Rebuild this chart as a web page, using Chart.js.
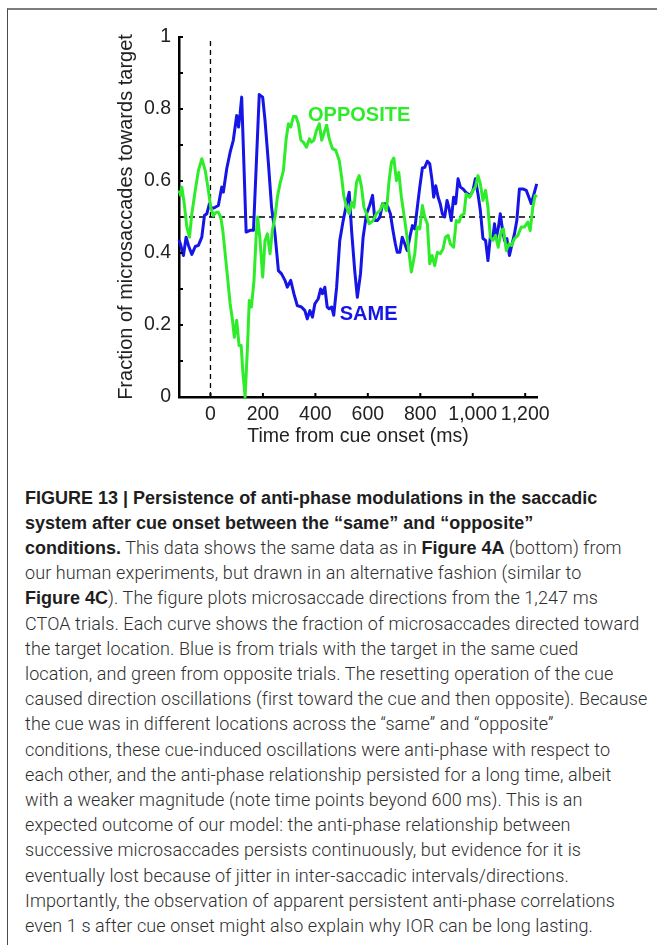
<!DOCTYPE html>
<html><head><meta charset="utf-8">
<script src="https://cdn.jsdelivr.net/npm/chart.js@4.4.1/dist/chart.umd.min.js"></script>
<style>
html,body{margin:0;padding:0;background:#fff;width:657px;height:945px;overflow:hidden;}
#frame{position:absolute;left:7px;top:8px;width:720px;height:1000px;border-top:2px solid #7d7d7d;border-left:1.5px solid #4a4a4a;}
#wrap{position:absolute;left:0;top:0;width:657px;height:460px;}
#cap{position:absolute;left:25px;top:484.7px;font-family:'Roboto','Liberation Sans',sans-serif;font-weight:300;font-size:18px;color:#2e2e2e;}
#cap div{height:25.2px;line-height:25.2px;white-space:nowrap;}
#cap div span{display:inline-block;}
#cap b{font-family:'Liberation Sans',Arial,sans-serif;font-weight:700;color:#1e1e1e;letter-spacing:0;}
</style></head>
<body>
<div id="frame"></div>
<div id="wrap"><canvas id="c" width="657" height="460"></canvas></div>
<div id="cap">
<div><span><b>FIGURE 13 | Persistence of anti-phase modulations in the saccadic</b></span></div>
<div><span><b>system after cue onset between the “same” and “opposite”</b></span></div>
<div><span><b>conditions.</b> This data shows the same data as in <b>Figure 4A</b> (bottom) from</span></div>
<div><span>our human experiments, but drawn in an alternative fashion (similar to</span></div>
<div><span><b>Figure 4C</b>). The figure plots microsaccade directions from the 1,247 ms</span></div>
<div><span>CTOA trials. Each curve shows the fraction of microsaccades directed toward</span></div>
<div><span>the target location. Blue is from trials with the target in the same cued</span></div>
<div><span>location, and green from opposite trials. The resetting operation of the cue</span></div>
<div><span id="refline">caused direction oscillations (first toward the cue and then opposite). Because</span></div>
<div><span>the cue was in different locations across the “same” and “opposite”</span></div>
<div><span>conditions, these cue-induced oscillations were anti-phase with respect to</span></div>
<div><span>each other, and the anti-phase relationship persisted for a long time, albeit</span></div>
<div><span>with a weaker magnitude (note time points beyond 600 ms). This is an</span></div>
<div><span>expected outcome of our model: the anti-phase relationship between</span></div>
<div><span>successive microsaccades persists continuously, but evidence for it is</span></div>
<div><span>eventually lost because of jitter in inter-saccadic intervals/directions.</span></div>
<div><span>Importantly, the observation of apparent persistent anti-phase correlations</span></div>
<div><span>even 1 s after cue onset might also explain why IOR can be long lasting.</span></div>
</div>
<script>
// ---- data ----
const timeSame = [-120,-115,-103,-93,-84,-71,-58,-46,-33,-23,-14,-4,5,18,30,43,49,62,75,87,100,107,113,119,136,151,164,186,199,208,221,233,246,259,271,284,293,306,318,331,347,360,369,379,389,398,411,420,427,436,445,453,462,470,481,493,506,519,529,538,550,560,572,582,595,607,618,627,636,646,656,669,677,686,696,705,712,722,731,741,750,760,770,779,788,798,808,817,827,836,845,851,859,868,876,884,893,902,909,918,927,935,944,953,963,973,982,991,1001,1010,1020,1029,1039,1049,1058,1067,1077,1083,1089,1098,1105,1112,1121,1130,1140,1150,1159,1168,1178,1191,1204,1214,1223,1232,1244];
const fracSame = [0.437,0.426,0.393,0.444,0.421,0.396,0.418,0.421,0.444,0.504,0.509,0.537,0.523,0.527,0.532,0.583,0.569,0.634,0.680,0.713,0.782,0.750,0.787,0.833,0.458,0.463,0.463,0.840,0.833,0.768,0.648,0.527,0.453,0.351,0.342,0.324,0.305,0.324,0.287,0.254,0.250,0.240,0.217,0.240,0.222,0.259,0.273,0.300,0.287,0.305,0.250,0.245,0.250,0.227,0.305,0.435,0.490,0.537,0.569,0.463,0.351,0.277,0.342,0.444,0.509,0.532,0.560,0.490,0.490,0.500,0.537,0.537,0.527,0.509,0.462,0.425,0.402,0.402,0.444,0.425,0.407,0.444,0.476,0.467,0.523,0.583,0.636,0.638,0.655,0.648,0.601,0.555,0.587,0.555,0.537,0.509,0.500,0.546,0.527,0.490,0.555,0.537,0.606,0.583,0.578,0.569,0.564,0.560,0.574,0.606,0.564,0.518,0.440,0.435,0.379,0.444,0.444,0.481,0.440,0.472,0.509,0.472,0.435,0.440,0.393,0.425,0.453,0.490,0.578,0.578,0.574,0.555,0.537,0.560,0.592];
const timeOpposite = [-120,-114,-109,-100,-90,-80,-71,-58,-46,-33,-20,-8,1,11,22,30,39,47,56,65,75,84,91,100,109,117,123,132,141,148,156,166,174,180,189,199,208,217,227,236,246,255,265,278,288,297,306,316,326,335,345,354,366,377,385,394,404,415,424,432,443,453,465,478,491,500,508,519,529,538,547,557,567,576,585,595,605,620,633,646,658,671,681,690,699,709,718,728,741,753,766,779,788,798,808,817,827,836,845,855,865,876,887,896,906,915,927,937,948,956,967,975,988,1001,1010,1020,1029,1039,1049,1058,1067,1077,1087,1097,1109,1117,1128,1138,1148,1159,1172,1185,1197,1210,1219,1229,1238,1244];
const fracOpposite = [0.574,0.560,0.583,0.537,0.472,0.444,0.509,0.574,0.629,0.662,0.629,0.574,0.527,0.504,0.513,0.513,0.500,0.463,0.398,0.333,0.259,0.213,0.166,0.213,0.143,0.143,0.074,0.000,0.138,0.268,0.250,0.324,0.444,0.500,0.435,0.333,0.435,0.453,0.398,0.463,0.500,0.555,0.592,0.629,0.713,0.759,0.750,0.779,0.779,0.759,0.713,0.708,0.694,0.717,0.708,0.713,0.740,0.759,0.713,0.731,0.755,0.717,0.690,0.685,0.657,0.611,0.560,0.527,0.509,0.541,0.527,0.597,0.615,0.583,0.527,0.509,0.481,0.490,0.509,0.518,0.537,0.518,0.601,0.652,0.664,0.601,0.624,0.555,0.490,0.425,0.347,0.398,0.472,0.467,0.532,0.500,0.481,0.370,0.393,0.365,0.402,0.398,0.412,0.444,0.449,0.425,0.416,0.490,0.486,0.504,0.509,0.564,0.555,0.574,0.583,0.615,0.592,0.546,0.574,0.527,0.444,0.435,0.449,0.416,0.462,0.467,0.407,0.425,0.421,0.440,0.449,0.472,0.472,0.486,0.462,0.527,0.560,0.555];
const xTickValues = [0,200,400,600,800,1000,1200];
const xTickLabels = ['0','200','400','600','800','1,000','1,200'];
const yTickValues = [0,0.2,0.4,0.6,0.8,1];
const yTickLabels = ['0','0.2','0.4','0.6','0.8','1'];
const yMinorTicks = [0,0.1,0.2,0.3,0.4,0.5,0.6,0.7,0.8,0.9,1];
const cueTime = 0;
const chanceLevel = 0.5;
const xMin = -120, xMax = 1245;
const labelTexts = ['OPPOSITE','SAME'];
const labelTimes = [372, 493];
const labelFracs = [0.768, 0.215];

// ---- caption fit ----
(function(){
  const ref = document.getElementById('refline');
  const w = ref.getBoundingClientRect().width;
  const n = ref.textContent.length;
  const ls = (622 - w) / n;
  document.getElementById('cap').style.letterSpacing = ls + 'px';
})();

// ---- chart ----
const BLUE = '#1515e6', GREEN = '#2eec2a';
const FONT = "'Liberation Sans', Arial, Helvetica, sans-serif";
Chart.defaults.font.family = FONT;
const pts = (xs, ys) => xs.map((t, i) => ({x: t, y: ys[i]}));

const decor = {
  id: 'decor',
  afterDraw(chart) {
    const {ctx, scales: {x, y}} = chart;
    ctx.save();
    ctx.strokeStyle = '#000';
    ctx.lineWidth = 2;
    const x0 = x.getPixelForValue(xMin);
    yMinorTicks.forEach(v => {
      const py = y.getPixelForValue(v);
      ctx.beginPath(); ctx.moveTo(x0, py); ctx.lineTo(x0 + 4, py); ctx.stroke();
    });
    const y0 = y.getPixelForValue(0);
    xTickValues.forEach(v => {
      const px = x.getPixelForValue(v);
      ctx.beginPath(); ctx.moveTo(px, y0); ctx.lineTo(px, y0 - 4); ctx.stroke();
    });
    ctx.font = "bold 20px " + FONT;
    ctx.textAlign = 'left';
    ctx.textBaseline = 'alphabetic';
    const cols = [GREEN, BLUE];
    labelTexts.forEach((t, i) => {
      ctx.fillStyle = cols[i];
      ctx.fillText(t, x.getPixelForValue(labelTimes[i]), y.getPixelForValue(labelFracs[i]));
    });
    ctx.restore();
  }
};

new Chart(document.getElementById('c'), {
  type: 'line',
  data: {
    datasets: [
      {label: 'OPPOSITE', data: pts(timeOpposite, fracOpposite), borderColor: GREEN, borderWidth: 3, pointRadius: 0, tension: 0, order: 0, clip: 6, borderJoinStyle: 'round'},
      {label: 'SAME', data: pts(timeSame, fracSame), borderColor: BLUE, borderWidth: 3, pointRadius: 0, tension: 0, order: 1, clip: 6, borderJoinStyle: 'round'},
      {label: 'cue', data: [{x: cueTime, y: 0}, {x: cueTime, y: 1}], borderColor: '#000', borderWidth: 1.3, borderDash: [5, 4], pointRadius: 0, order: 2},
      {label: 'chance', data: [{x: xMin, y: chanceLevel}, {x: xMax, y: chanceLevel}], borderColor: '#000', borderWidth: 1.3, borderDash: [6, 4], pointRadius: 0, order: 2}
    ]
  },
  options: {
    responsive: false, animation: false, devicePixelRatio: 1,
    layout: {padding: {left: 110, right: 120, top: 37, bottom: 3}},
    plugins: {legend: {display: false}, tooltip: {enabled: false}},
    scales: {
      x: {
        type: 'linear', min: xMin, max: xMax,
        grid: {display: false, drawTicks: false},
        border: {display: true, color: '#000', width: 2.5},
        afterBuildTicks: s => { s.ticks = xTickValues.map(v => ({value: v})); },
        afterFit: s => { s.height = 60; },
        ticks: {padding: 6, color: '#222', font: {size: 19.5}, maxRotation: 0, autoSkip: false,
                callback: v => xTickLabels[xTickValues.indexOf(v)]},
        title: {display: true, text: 'Time from cue onset (ms)', color: '#222', font: {size: 19.5}, padding: {top: 0, bottom: 9}}
      },
      y: {
        type: 'linear', min: 0, max: 1,
        grid: {display: false, drawTicks: false},
        border: {display: true, color: '#000', width: 2.5},
        afterBuildTicks: s => { s.ticks = yTickValues.map(v => ({value: v})); },
        afterFit: s => { s.width = 69; },
        ticks: {padding: 8, color: '#222', font: {size: 19.5}, autoSkip: false,
                callback: v => yTickLabels[yTickValues.indexOf(v)]},
        title: {display: true, text: 'Fraction of microsaccades towards target', color: '#222', font: {size: 20}, padding: {top: 4, bottom: 0}}
      }
    }
  },
  plugins: [decor]
});
</script>
</body></html>
